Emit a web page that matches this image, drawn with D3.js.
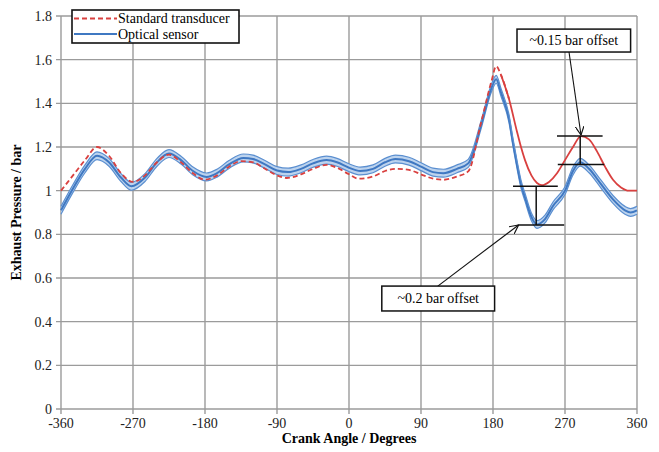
<!DOCTYPE html>
<html>
<head>
<meta charset="utf-8">
<script src="https://cdn.jsdelivr.net/npm/d3@7"></script>
<style>
  body { margin: 0; background: #fff; }
  svg { display: block; font-family: "Liberation Serif", "Times New Roman", serif; }
</style>
</head>
<body>
<div id="chart"></div>
<script>
// crank angle (deg) and pressure (bar)
const stdAngle = [-360, -345, -330, -315, -300, -285, -270, -255, -240, -225, -210, -195, -180, -165, -150, -135, -120, -105, -90, -78, -60, -45, -28, -15, 0, 12, 30, 45, 60, 75, 90, 105, 118, 135, 149, 165, 178, 184, 190, 200, 210, 215, 220, 228, 235, 241, 250, 260, 270, 280, 290, 300, 310, 320, 330, 340, 350, 360];
const stdValue = [1.00, 1.07, 1.14, 1.20, 1.16, 1.08, 1.04, 1.07, 1.13, 1.165, 1.13, 1.08, 1.05, 1.07, 1.11, 1.135, 1.13, 1.10, 1.07, 1.058, 1.075, 1.10, 1.118, 1.105, 1.075, 1.055, 1.065, 1.09, 1.10, 1.095, 1.075, 1.055, 1.05, 1.065, 1.088, 1.31, 1.50, 1.57, 1.53, 1.42, 1.27, 1.20, 1.14, 1.07, 1.035, 1.025, 1.04, 1.08, 1.14, 1.20, 1.25, 1.235, 1.18, 1.11, 1.05, 1.015, 1.00, 1.00];

const optAngle = [-360, -345, -330, -315, -300, -285, -272, -255, -240, -225, -210, -195, -178, -165, -150, -132, -120, -105, -90, -76, -60, -45, -28, -15, 0, 14, 30, 45, 58, 75, 90, 105, 118, 135, 149, 165, 178, 184, 190, 200, 205, 210, 215, 220, 228, 235, 245, 255, 270, 280, 289, 300, 315, 330, 345, 352, 360];
const optValue = [0.91, 1.01, 1.10, 1.16, 1.13, 1.06, 1.02, 1.06, 1.13, 1.17, 1.14, 1.09, 1.063, 1.08, 1.12, 1.15, 1.145, 1.12, 1.092, 1.085, 1.10, 1.125, 1.14, 1.13, 1.105, 1.09, 1.10, 1.13, 1.145, 1.135, 1.11, 1.085, 1.08, 1.10, 1.125, 1.30, 1.47, 1.51, 1.45, 1.33, 1.22, 1.12, 1.03, 0.97, 0.88, 0.845, 0.87, 0.93, 1.00, 1.09, 1.13, 1.10, 1.03, 0.96, 0.91, 0.90, 0.91];

const xTicks = [-360, -270, -180, -90, 0, 90, 180, 270, 360];
const yTicks = [0, 0.2, 0.4, 0.6, 0.8, 1, 1.2, 1.4, 1.6, 1.8];

// offset markers: [angle from, angle to, level]
const offsetBars = [[205, 261, 1.02], [211, 269, 0.843], [260, 317, 1.25], [261, 319, 1.12]];
const offsetStems = [[234, 1.02, 0.843], [289, 1.25, 1.12]];
// label boxes: text, angle from, angle to, top, bottom, arrow [x0,y0,x1,y1]
const notes = [
  { text: "~0.15 bar offset", a0: 210, a1: 352, v0: 1.74, v1: 1.635, arrow: [275, 1.635, 290, 1.255] },
  { text: "~0.2 bar offset", a0: 41, a1: 182, v0: 0.563, v1: 0.449, arrow: [111, 0.563, 212, 0.843] }
];

const W = 659, H = 452;
const margin = { left: 61, right: 22, top: 16, bottom: 43 };

const svg = d3.select("#chart").append("svg").attr("width", W).attr("height", H);

const x = d3.scaleLinear().domain([-360, 360]).range([margin.left, W - margin.right]);
const y = d3.scaleLinear().domain([0, 1.8]).range([H - margin.bottom, margin.top]);

const gridColor = "#9b9b9b";

// grid
svg.append("g").selectAll("line").data(yTicks).join("line")
  .attr("x1", x(-360) - 5).attr("x2", x(360))
  .attr("y1", d => y(d)).attr("y2", d => y(d))
  .attr("stroke", gridColor).attr("stroke-width", 1.4);
svg.append("g").selectAll("line").data(xTicks).join("line")
  .attr("x1", d => x(d)).attr("x2", d => x(d))
  .attr("y1", y(1.8)).attr("y2", y(0) + 5)
  .attr("stroke", gridColor).attr("stroke-width", 1.4);

// tick labels
svg.append("g").selectAll("text").data(yTicks).join("text")
  .attr("x", x(-360) - 9).attr("y", d => y(d)).attr("dy", "0.35em")
  .attr("text-anchor", "end").attr("font-size", 14).attr("fill", "#222")
  .text(d => d3.format("~g")(d));
svg.append("g").selectAll("text").data(xTicks).join("text")
  .attr("x", d => x(d)).attr("y", y(0) + 19)
  .attr("text-anchor", "middle").attr("font-size", 14).attr("fill", "#222")
  .text(d => d);

// axis titles
svg.append("text")
  .attr("x", x(0)).attr("y", H - 9)
  .attr("text-anchor", "middle").attr("font-size", 14).attr("font-weight", "bold")
  .text("Crank Angle / Degrees");
svg.append("text")
  .attr("transform", `translate(21,${y(0.9)}) rotate(-90)`)
  .attr("text-anchor", "middle").attr("font-size", 14).attr("font-weight", "bold")
  .text("Exhaust Pressure / bar");

// optical sensor: band with three traces
const opt = optAngle.map((a, i) => ({ a, v: optValue[i] }));
const band = 0.018;
const curve = d3.curveMonotoneX;
svg.append("path").datum(opt)
  .attr("d", d3.area().x(d => x(d.a)).y0(d => y(d.v - band)).y1(d => y(d.v + band)).curve(curve))
  .attr("fill", "#bcd3ee");
[-band, 0, band].forEach(off => {
  svg.append("path").datum(opt)
    .attr("d", d3.line().x(d => x(d.a)).y(d => y(d.v + off)).curve(curve))
    .attr("fill", "none")
    .attr("stroke", off === 0 ? "#3f78c2" : "#5b8fd0")
    .attr("stroke-width", off === 0 ? 2 : 1.2);
});

// standard transducer (dashed, renders solid after the peak)
const std = stdAngle.map((a, i) => ({ a, v: stdValue[i] }));
const stdLine = d3.line().x(d => x(d.a)).y(d => y(d.v)).curve(curve);
svg.append("path").datum(std.filter(d => d.a <= 200))
  .attr("d", stdLine)
  .attr("fill", "none").attr("stroke", "#d9403f").attr("stroke-width", 1.8)
  .attr("stroke-dasharray", "5,3");
svg.append("path").datum(std.filter(d => d.a >= 190))
  .attr("d", stdLine)
  .attr("fill", "none").attr("stroke", "#d9403f").attr("stroke-width", 1.8);

// offset markers
svg.append("g").selectAll("line").data(offsetBars).join("line")
  .attr("x1", d => x(d[0])).attr("x2", d => x(d[1]))
  .attr("y1", d => y(d[2])).attr("y2", d => y(d[2]))
  .attr("stroke", "#111").attr("stroke-width", 1.5);
svg.append("g").selectAll("line").data(offsetStems).join("line")
  .attr("x1", d => x(d[0])).attr("x2", d => x(d[0]))
  .attr("y1", d => y(d[1])).attr("y2", d => y(d[2]))
  .attr("stroke", "#111").attr("stroke-width", 1.5);

// arrows and label boxes
svg.append("defs").append("marker")
  .attr("id", "arrow").attr("viewBox", "0 0 10 10")
  .attr("refX", 10).attr("refY", 5)
  .attr("markerWidth", 9).attr("markerHeight", 9)
  .attr("markerUnits", "userSpaceOnUse")
  .attr("orient", "auto")
  .append("path").attr("d", "M0,0 L10,5 L0,10")
  .attr("fill", "none").attr("stroke", "#111").attr("stroke-width", 1.3);

const note = svg.append("g").selectAll("g").data(notes).join("g");
note.append("line")
  .attr("x1", d => x(d.arrow[0])).attr("y1", d => y(d.arrow[1]))
  .attr("x2", d => x(d.arrow[2])).attr("y2", d => y(d.arrow[3]))
  .attr("stroke", "#111").attr("stroke-width", 1.1)
  .attr("marker-end", "url(#arrow)");
note.append("rect")
  .attr("x", d => x(d.a0)).attr("y", d => y(d.v0))
  .attr("width", d => x(d.a1) - x(d.a0)).attr("height", d => y(d.v1) - y(d.v0))
  .attr("fill", "#fff").attr("stroke", "#111").attr("stroke-width", 1.5);
note.append("text")
  .attr("x", d => (x(d.a0) + x(d.a1)) / 2).attr("y", d => (y(d.v0) + y(d.v1)) / 2)
  .attr("dy", "0.35em").attr("text-anchor", "middle").attr("font-size", 14)
  .text(d => d.text);

// legend
const lg = svg.append("g").attr("transform", "translate(72,10)");
lg.append("rect").attr("width", 167).attr("height", 33)
  .attr("fill", "#fff").attr("stroke", "#111").attr("stroke-width", 1.6);
lg.append("line").attr("x1", 2).attr("x2", 45).attr("y1", 8.5).attr("y2", 8.5)
  .attr("stroke", "#d9403f").attr("stroke-width", 1.8).attr("stroke-dasharray", "5,3");
lg.append("line").attr("x1", 2).attr("x2", 45).attr("y1", 24).attr("y2", 24)
  .attr("stroke", "#3f78c2").attr("stroke-width", 2);
lg.append("text").attr("x", 46).attr("y", 8.5).attr("dy", "0.35em")
  .attr("font-size", 14).text("Standard transducer");
lg.append("text").attr("x", 46).attr("y", 24).attr("dy", "0.35em")
  .attr("font-size", 14).text("Optical sensor");
</script>
</body>
</html>
